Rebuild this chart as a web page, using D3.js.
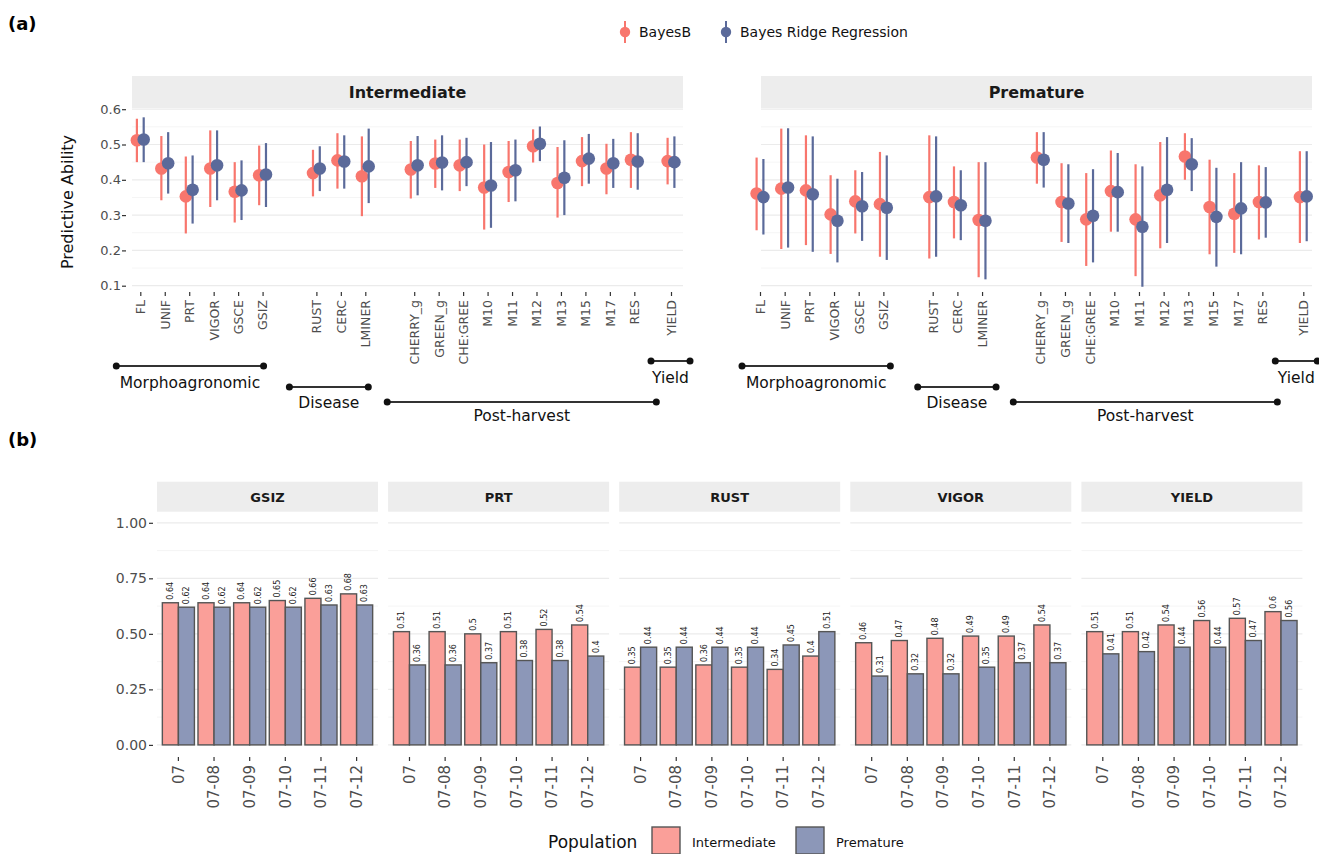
<!DOCTYPE html>
<html>
<head>
<meta charset="utf-8">
<script src="https://cdn.jsdelivr.net/npm/d3@7"></script>
<style>
  body { margin: 0; background: #fff; }
  svg { font-family: "DejaVu Sans", sans-serif; }
</style>
</head>
<body>
<svg id="fig" width="1319" height="854"></svg>
<script>
// Data
//====================
var morphoTraits = ["FL", "UNIF", "PRT", "VIGOR", "GSCE", "GSIZ"];
var diseaseTraits = ["RUST", "CERC", "LMINER"];
var postTraits = ["CHERRY_g", "GREEN_g", "CHE:GREE", "M10", "M11", "M12", "M13", "M15", "M17", "RES"];
var yieldTraits = ["YIELD"];
var groupNames = ["Morphoagronomic", "Disease", "Post-harvest", "Yield"];
var models = ["BayesB", "Bayes Ridge Regression"];

// Intermediate population
var intBayesB   = [0.512, 0.432, 0.353, 0.432, 0.366, 0.413, 0.419, 0.455, 0.410, 0.429, 0.446, 0.441, 0.378, 0.422, 0.495, 0.391, 0.453, 0.432, 0.457, 0.453];
var intBayesBLo = [0.450, 0.342, 0.248, 0.323, 0.279, 0.328, 0.353, 0.375, 0.297, 0.347, 0.377, 0.368, 0.259, 0.337, 0.449, 0.293, 0.382, 0.359, 0.377, 0.387];
var intBayesBHi = [0.573, 0.524, 0.466, 0.540, 0.450, 0.497, 0.485, 0.532, 0.523, 0.510, 0.514, 0.514, 0.500, 0.510, 0.543, 0.493, 0.521, 0.502, 0.535, 0.519];
var intBRR      = [0.514, 0.447, 0.372, 0.441, 0.370, 0.415, 0.432, 0.452, 0.438, 0.441, 0.449, 0.450, 0.384, 0.427, 0.502, 0.406, 0.460, 0.447, 0.452, 0.450];
var intBRRLo    = [0.450, 0.361, 0.276, 0.342, 0.286, 0.323, 0.368, 0.375, 0.334, 0.356, 0.370, 0.382, 0.264, 0.339, 0.453, 0.300, 0.389, 0.377, 0.372, 0.377];
var intBRRHi    = [0.577, 0.535, 0.469, 0.540, 0.455, 0.504, 0.495, 0.526, 0.545, 0.524, 0.526, 0.519, 0.507, 0.514, 0.551, 0.512, 0.530, 0.516, 0.532, 0.523];

// Premature population
var preBayesB   = [0.361, 0.375, 0.370, 0.302, 0.339, 0.331, 0.351, 0.337, 0.286, 0.463, 0.337, 0.288, 0.368, 0.288, 0.356, 0.466, 0.323, 0.304, 0.337, 0.351];
var preBayesBLo = [0.257, 0.204, 0.215, 0.190, 0.248, 0.182, 0.177, 0.234, 0.124, 0.389, 0.224, 0.156, 0.253, 0.127, 0.206, 0.400, 0.189, 0.193, 0.231, 0.221];
var preBayesBHi = [0.463, 0.545, 0.526, 0.413, 0.427, 0.479, 0.526, 0.438, 0.450, 0.535, 0.447, 0.419, 0.483, 0.444, 0.507, 0.532, 0.457, 0.419, 0.441, 0.481];
var preBRR      = [0.351, 0.378, 0.359, 0.284, 0.325, 0.321, 0.353, 0.328, 0.284, 0.457, 0.333, 0.298, 0.365, 0.267, 0.372, 0.444, 0.295, 0.319, 0.336, 0.353];
var preBRRLo    = [0.245, 0.208, 0.196, 0.166, 0.227, 0.173, 0.182, 0.229, 0.118, 0.378, 0.221, 0.166, 0.253, 0.097, 0.221, 0.368, 0.154, 0.189, 0.236, 0.226];
var preBRRHi    = [0.459, 0.546, 0.523, 0.403, 0.422, 0.469, 0.523, 0.427, 0.450, 0.535, 0.444, 0.430, 0.476, 0.438, 0.521, 0.518, 0.434, 0.450, 0.436, 0.481];

var aTicks = [0.1, 0.2, 0.3, 0.4, 0.5, 0.6];

// Panel (b): accuracy by period
var periods = ["07", "07-08", "07-09", "07-10", "07-11", "07-12"];
var bTraits = ["GSIZ", "PRT", "RUST", "VIGOR", "YIELD"];
var populations = ["Intermediate", "Premature"];
var intermediateAcc = [
  [0.64, 0.64, 0.64, 0.65, 0.66, 0.68],
  [0.51, 0.51, 0.50, 0.51, 0.52, 0.54],
  [0.35, 0.35, 0.36, 0.35, 0.34, 0.40],
  [0.46, 0.47, 0.48, 0.49, 0.49, 0.54],
  [0.51, 0.51, 0.54, 0.56, 0.57, 0.60]
];
var prematureAcc = [
  [0.62, 0.62, 0.62, 0.62, 0.63, 0.63],
  [0.36, 0.36, 0.37, 0.38, 0.38, 0.40],
  [0.44, 0.44, 0.44, 0.44, 0.45, 0.51],
  [0.31, 0.32, 0.32, 0.35, 0.37, 0.37],
  [0.41, 0.42, 0.44, 0.44, 0.47, 0.56]
];
var bTicks = [0, 0.25, 0.5, 0.75, 1];

// Styles
//====================
var red = "#F8766D", blue = "#5B6A9A";
var redFill = "#FA9F99", blueFill = "#8C97B8";
var gridCol = "#ebebeb", stripCol = "#ededed", axisTextCol = "#4d4d4d";

var svg = d3.select("#fig");

// Panel labels
svg.append("text").attr("x", 8).attr("y", 30).style("font-weight", "bold").style("font-size", "18px").text("(a)");
svg.append("text").attr("x", 8).attr("y", 446).style("font-weight", "bold").style("font-size", "18px").text("(b)");

// ================= Panel (a) =================
var groups = [morphoTraits, diseaseTraits, postTraits, yieldTraits];
var traits = d3.merge(groups);

var aPanels = [
  { name: "Intermediate", left: 132, right: 683, first: 140.3, last: 671, gaps: [1.2, 1.0, 0.5],
    pads: [[-24, 1], [-27, 3], [-27, 22], [-20, 19]],
    series: [[intBayesB, intBayesBLo, intBayesBHi], [intBRR, intBRRLo, intBRRHi]] },
  { name: "Premature", left: 761, right: 1312, first: 760, last: 1303.3, gaps: [1.0, 1.36, 0.66],
    pads: [[-18, 7], [-15, 14], [-27, 15], [-28, 14]],
    series: [[preBayesB, preBayesBLo, preBayesBHi], [preBRR, preBRRLo, preBRRHi]] }
];
var bracketY = [366, 387, 402, 361];
var bracketTextY = [383, 403, 416, 378];

var yA = d3.scaleLinear().domain([0.1, 0.6]).range([285.7, 109.2]);
var aTop = 108, aBottom = 289;

function slotsFor(gaps) {
  var out = [], s = 0;
  groups.forEach(function(g, gi) {
    g.forEach(function() { out.push(s); s += 1; });
    if (gi < gaps.length) s += gaps[gi];
  });
  return out;
}

aPanels.forEach(function(p) {
  var slots = slotsFor(p.gaps);
  var x = d3.scaleLinear().domain([0, slots[slots.length - 1]]).range([p.first, p.last]);
  var g = svg.append("g");

  // strip
  g.append("rect").attr("x", p.left).attr("y", 76).attr("width", p.right - p.left).attr("height", aTop - 76)
    .attr("fill", stripCol);
  g.append("text").attr("x", (p.left + p.right) / 2).attr("y", 92).attr("dy", "0.35em")
    .attr("text-anchor", "middle").style("font-weight", "bold").style("font-size", "16px").attr("fill", "#1a1a1a")
    .text(p.name);

  // gridlines
  var minor = d3.range(0.15, 0.6, 0.1);
  g.selectAll(".minor").data(minor).enter().append("line")
    .attr("x1", p.left).attr("x2", p.right).attr("y1", d => yA(d)).attr("y2", d => yA(d))
    .attr("stroke", "#f2f2f2").attr("stroke-width", 0.8);
  g.selectAll(".major").data(aTicks.filter(d => yA(d) > aTop)).enter().append("line")
    .attr("x1", p.left).attr("x2", p.right).attr("y1", d => yA(d)).attr("y2", d => yA(d))
    .attr("stroke", gridCol).attr("stroke-width", 1.2);

  // x axis
  var xAxis = d3.axisBottom(x).tickValues(slots).tickSize(4).tickPadding(3)
    .tickFormat(function(d, i) { return traits[i]; });
  var ax = g.append("g").attr("transform", "translate(0," + 292 + ")").call(xAxis);
  ax.select(".domain").remove();
  ax.selectAll("line").attr("stroke", "#333").attr("stroke-width", 1.2);
  ax.selectAll("text").attr("transform", "rotate(-90)").attr("text-anchor", "end")
    .attr("x", -8).attr("y", 0).attr("dy", "0.35em")
    .style("font-size", "12.5px").style("font-family", "DejaVu Sans").attr("fill", axisTextCol);

  // point ranges, BayesB first then BRR on top
  var dodge = [-3.4, 3.4];
  var colors = [red, blue];
  p.series.forEach(function(s, si) {
    var rows = traits.map(function(t, i) { return { t: t, i: i, m: s[0][i], lo: s[1][i], hi: s[2][i] }; });
    var sg = g.append("g");
    sg.selectAll("line").data(rows).enter().append("line")
      .attr("x1", d => x(slots[d.i]) + dodge[si]).attr("x2", d => x(slots[d.i]) + dodge[si])
      .attr("y1", d => yA(d.lo)).attr("y2", d => yA(d.hi))
      .attr("stroke", colors[si]).attr("stroke-width", 2.2);
    sg.selectAll("circle").data(rows).enter().append("circle")
      .attr("cx", d => x(slots[d.i]) + dodge[si]).attr("cy", d => yA(d.m))
      .attr("r", 6.3).attr("fill", colors[si]);
  });

  // group brackets
  var start = 0;
  groups.forEach(function(grp, gi) {
    var x1 = x(slots[start]) + p.pads[gi][0];
    var x2 = x(slots[start + grp.length - 1]) + p.pads[gi][1];
    var bg = g.append("g");
    bg.append("line").attr("x1", x1).attr("x2", x2).attr("y1", bracketY[gi]).attr("y2", bracketY[gi])
      .attr("stroke", "#333").attr("stroke-width", 2);
    bg.selectAll("circle").data([x1, x2]).enter().append("circle")
      .attr("cx", d => d).attr("cy", bracketY[gi]).attr("r", 3.5).attr("fill", "#111");
    bg.append("text").attr("x", (x1 + x2) / 2).attr("y", bracketTextY[gi]).attr("dy", "0.35em")
      .attr("text-anchor", "middle").style("font-size", "15.5px").attr("fill", "#111")
      .text(groupNames[gi]);
    start += grp.length;
  });
});

// y axis for (a)
var yAxisA = d3.axisLeft(yA).tickValues(aTicks).tickSize(4).tickPadding(1)
  .tickFormat(d3.format(".1f"));
var ayA = svg.append("g").attr("transform", "translate(126,0)").call(yAxisA);
ayA.select(".domain").remove();
ayA.selectAll("line").attr("stroke", "#333").attr("stroke-width", 1.2);
ayA.selectAll("text").style("font-size", "13px").style("font-family", "DejaVu Sans").attr("fill", axisTextCol);

svg.append("text").attr("transform", "translate(67,202) rotate(-90)")
  .attr("text-anchor", "middle").attr("dy", "0.35em").style("font-size", "16px").attr("fill", "#111")
  .text("Predictive Ability");

// legend (a)
var legA = svg.append("g");
var legX = [625, 726];
models.forEach(function(m, i) {
  legA.append("line").attr("x1", legX[i]).attr("x2", legX[i]).attr("y1", 21).attr("y2", 43)
    .attr("stroke", [red, blue][i]).attr("stroke-width", 2);
  legA.append("circle").attr("cx", legX[i]).attr("cy", 32).attr("r", 5.2).attr("fill", [red, blue][i]);
  legA.append("text").attr("x", legX[i] + 14).attr("y", 32).attr("dy", "0.35em")
    .style("font-size", "14px").attr("fill", "#111").text(m);
});

// ================= Panel (b) =================
var bWidth = 221, bStep = 231.1, bLeft0 = 157;
var yB = d3.scaleLinear().domain([-0.05, 1.05]).range([756, 511.7]);

bTraits.forEach(function(t, ti) {
  var left = bLeft0 + ti * bStep;
  var g = svg.append("g");
  var x = d3.scaleBand().domain(periods).range([left, left + bWidth]).paddingInner(0.1).paddingOuter(0.15);
  var xs = d3.scaleBand().domain(populations).range([0, x.bandwidth()]);

  // strip
  g.append("rect").attr("x", left).attr("y", 481.7).attr("width", bWidth).attr("height", 30).attr("fill", stripCol);
  g.append("text").attr("x", left + bWidth / 2).attr("y", 497).attr("dy", "0.35em").attr("text-anchor", "middle")
    .style("font-weight", "bold").style("font-size", "13px").attr("fill", "#1a1a1a").text(t);

  // gridlines
  g.selectAll(".minor").data(d3.range(0.125, 1, 0.25)).enter().append("line")
    .attr("x1", left).attr("x2", left + bWidth).attr("y1", d => yB(d)).attr("y2", d => yB(d))
    .attr("stroke", "#f2f2f2").attr("stroke-width", 0.8);
  g.selectAll(".major").data(bTicks).enter().append("line")
    .attr("x1", left).attr("x2", left + bWidth).attr("y1", d => yB(d)).attr("y2", d => yB(d))
    .attr("stroke", gridCol).attr("stroke-width", 1.2);

  var rows = [];
  periods.forEach(function(p, i) {
    rows.push({ p: p, pop: "Intermediate", v: intermediateAcc[ti][i] });
    rows.push({ p: p, pop: "Premature", v: prematureAcc[ti][i] });
  });

  g.selectAll("rect.bar").data(rows).enter().append("rect").attr("class", "bar")
    .attr("x", d => x(d.p) + xs(d.pop)).attr("width", xs.bandwidth())
    .attr("y", d => yB(d.v)).attr("height", d => yB(0) - yB(d.v))
    .attr("fill", d => d.pop === "Intermediate" ? redFill : blueFill)
    .attr("stroke", "#555").attr("stroke-width", 1.4);

  g.selectAll("text.val").data(rows).enter().append("text").attr("class", "val")
    .attr("transform", d => "translate(" + (x(d.p) + xs(d.pop) + xs.bandwidth() / 2) + "," + (yB(d.v) - 3) + ") rotate(-90)")
    .attr("dy", "0.35em").style("font-size", "8px").attr("fill", "#222")
    .text(d => d3.format("")(d.v));

  // x axis
  var ax = g.append("g").attr("transform", "translate(0,757)").call(d3.axisBottom(x).tickSize(4).tickPadding(3));
  ax.select(".domain").remove();
  ax.selectAll("line").attr("stroke", "#333").attr("stroke-width", 1.2);
  ax.selectAll("text").attr("transform", "rotate(-90)").attr("text-anchor", "end")
    .attr("x", -8).attr("y", 0).attr("dy", "0.35em")
    .style("font-size", "15px").style("font-family", "DejaVu Sans").attr("fill", axisTextCol);
});

// y axis for (b)
var ayB = svg.append("g").attr("transform", "translate(153,0)")
  .call(d3.axisLeft(yB).tickValues(bTicks).tickSize(4).tickPadding(2).tickFormat(d3.format(".2f")));
ayB.select(".domain").remove();
ayB.selectAll("line").attr("stroke", "#333").attr("stroke-width", 1.2);
ayB.selectAll("text").style("font-size", "14px").style("font-family", "DejaVu Sans").attr("fill", axisTextCol);

// legend (b)
var legB = svg.append("g");
legB.append("text").attr("x", 548).attr("y", 842).attr("dy", "0.35em").style("font-size", "17px").attr("fill", "#111")
  .text("Population");
var boxX = [652, 796];
populations.forEach(function(p, i) {
  legB.append("rect").attr("x", boxX[i]).attr("y", 827).attr("width", 28).attr("height", 27)
    .attr("fill", i === 0 ? redFill : blueFill).attr("stroke", "#555").attr("stroke-width", 1.4);
  legB.append("text").attr("x", boxX[i] + 40).attr("y", 842).attr("dy", "0.35em").style("font-size", "13px")
    .attr("fill", "#111").text(p);
});
</script>
</body>
</html>
